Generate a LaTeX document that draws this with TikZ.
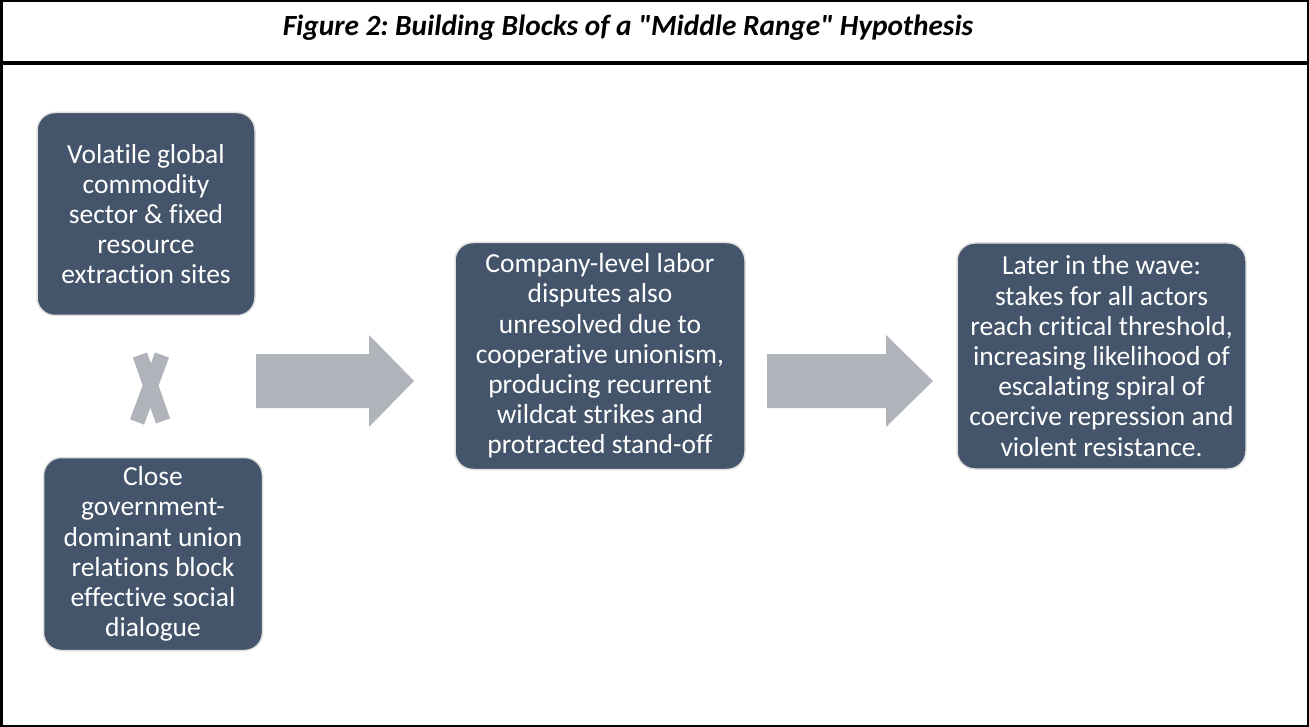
\documentclass[tikz,border=0pt]{standalone}
\usepackage{fontspec}
\setmainfont{Carlito}[Ligatures={NoCommon}]
\newfontfamily\titlefont{Carlito}
\usetikzlibrary{positioning}
\definecolor{boxblue}{HTML}{44546A}
\definecolor{arrowgray}{HTML}{B0B3B9}
\tikzset{
  block/.style={draw=black!12, line width=1.5pt, fill=boxblue, rounded corners=18pt,
    text=white, align=center, inner sep=0pt, font=\fontsize{27.5}{30.2}\selectfont},
}
\frenchspacing
\begin{document}
\begin{tikzpicture}[x=1pt, y=-1pt]
  \useasboundingbox (0,0) rectangle (1309,727);
  % frame and title bar
  \draw[line width=2.5pt] (1.25,1.25) rectangle (1307.75,725.75);
  \draw[line width=4pt] (0,63) -- (1309,63);
  \node[anchor=base, font=\titlefont\fontsize{29.3}{34}\selectfont\bfseries\itshape] (title) at (628,36)
    {Figure 2: Building Blocks of a "Middle Range" Hypothesis};

  % the blocks
  \node[block, minimum width=218pt, minimum height=203pt] (vol) at (146,214)
    {Volatile global\\commodity\\sector \& fixed\\resource\\extraction sites};
  \node[block, minimum width=219pt, minimum height=193pt] (close) at (153,554)
    {Close\\government-\\dominant union\\relations block\\effective social\\dialogue};
  \node[block, minimum width=290pt, minimum height=227pt] (dispute) at (600,356)
    {Company-level labor\\disputes also\\unresolved due to\\cooperative unionism,\\producing recurrent\\wildcat strikes and\\protracted stand-off};
  \node[block, minimum width=289pt, minimum height=226pt] (wave) at (1101.5,356)
    {Later in the wave:\\stakes for all actors\\reach critical threshold,\\increasing likelihood of\\escalating spiral of\\coercive repression and\\violent resistance.};

  % the cross between the two causes
  \draw[arrowgray, line width=15pt] (140,355) -- (163,421);
  \draw[arrowgray, line width=15pt] (162,355) -- (137,422);

  % block arrows
  \foreach \xa/\xb/\xc in {256/369/414, 767/886/933} {
    \fill[arrowgray] (\xa,354) -- (\xb,354) -- (\xb,335) -- (\xc,381)
      -- (\xb,427) -- (\xb,408) -- (\xa,408) -- cycle;
  }
\end{tikzpicture}
\end{document}
